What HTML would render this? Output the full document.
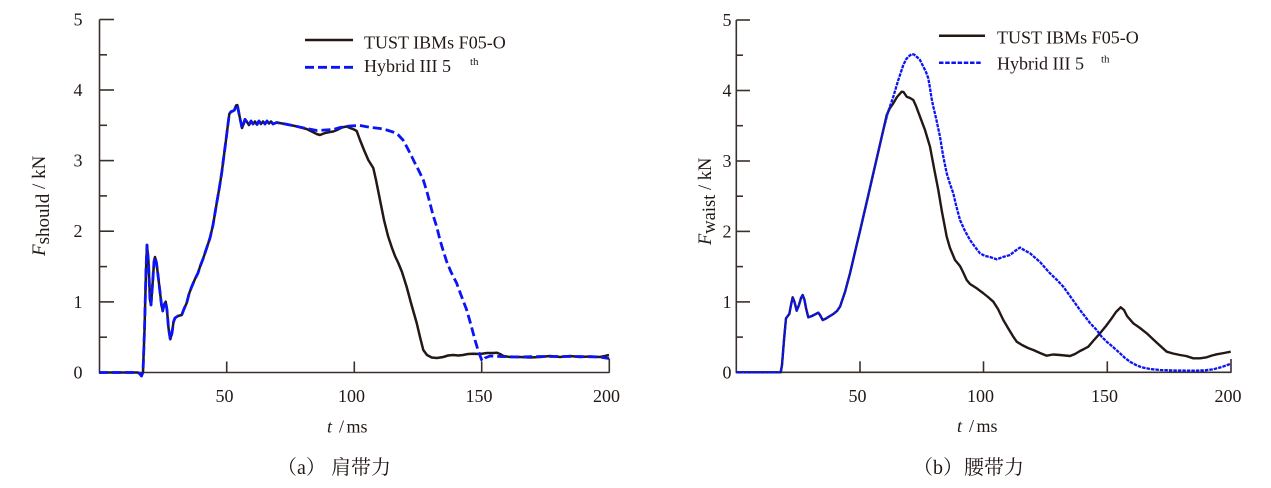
<!DOCTYPE html>
<html>
<head>
<meta charset="utf-8">
<style>
html,body{margin:0;padding:0;background:#fff;}
svg{display:block;}
text{font-family:"Liberation Serif","Times New Roman",serif;fill:#231815;}
.cj{font-family:"Liberation Serif","Noto Serif CJK SC","Noto Sans CJK SC",serif;}
</style>
</head>
<body>
<svg width="1271" height="488" viewBox="0 0 1271 488" xmlns="http://www.w3.org/2000/svg">
<rect width="1271" height="488" fill="#fff"/>

<!-- ============ LEFT CHART ============ -->
<g stroke="#3a302c" stroke-width="1.6" fill="none">
  <polyline points="99.5,19.5 99.5,372.5 609.5,372.5"/>
  <line x1="99.5" y1="19.5" x2="114" y2="19.5"/>
  <line x1="99.5" y1="90" x2="114" y2="90"/>
  <line x1="99.5" y1="160.6" x2="114" y2="160.6"/>
  <line x1="99.5" y1="231.2" x2="114" y2="231.2"/>
  <line x1="99.5" y1="301.9" x2="114" y2="301.9"/>
  <line x1="99.5" y1="54.8" x2="107" y2="54.8"/>
  <line x1="99.5" y1="125.3" x2="107" y2="125.3"/>
  <line x1="99.5" y1="195.9" x2="107" y2="195.9"/>
  <line x1="99.5" y1="266.6" x2="107" y2="266.6"/>
  <line x1="99.5" y1="337.2" x2="107" y2="337.2"/>
  <line x1="226.7" y1="372.5" x2="226.7" y2="361.5"/>
  <line x1="354.3" y1="372.5" x2="354.3" y2="361.5"/>
  <line x1="481.7" y1="372.5" x2="481.7" y2="361.5"/>
  <line x1="609.3" y1="372.5" x2="609.3" y2="358.5"/>
</g>
<g font-size="18" text-anchor="end">
  <text x="82.5" y="25.5">5</text>
  <text x="82.5" y="96">4</text>
  <text x="82.5" y="166.6">3</text>
  <text x="82.5" y="237.2">2</text>
  <text x="82.5" y="307.9">1</text>
  <text x="82.5" y="378.5">0</text>
</g>
<g font-size="18" text-anchor="middle">
  <text x="224.5" y="402">50</text>
  <text x="351.5" y="402">100</text>
  <text x="479" y="402">150</text>
  <text x="606.5" y="402">200</text>
</g>
<text x="327" y="432.5" font-size="18" font-style="italic">t</text>
<text x="339" y="432.5" font-size="18">/</text>
<text x="346.5" y="432.5" font-size="18">ms</text>
<text transform="translate(45,256) rotate(-90)" font-size="19"><tspan font-style="italic">F</tspan><tspan dy="4">should</tspan><tspan dy="-4"> / kN</tspan></text>

<!-- left series -->
<polyline fill="none" stroke="#231815" stroke-width="2.5" stroke-linejoin="round" points="
99,372.5 138,372.5 140,374 141.5,376 143,372 144.5,330 146,270 147,245 148.5,262 150,300 151,305 152.5,285 154,262 155,257 156.5,263 158,275 160,292 161.5,305 162.7,311 164,305 165.7,301.7 167,310 168.5,328 170.3,339.3 172,333 173.5,322 175,318 178,316 181.7,315 184,309 186.7,303 189,294 191.7,286.7 195,279 198,273 200,266.7 203,259 206,250 210,238 213,225 216.7,203 219,190 221.7,173 224,155 226,140 228,124 229.3,114 231,111.7 233,111 234.5,110 236,105.5 237.3,105 238.3,110 239.5,116 241,123 242,128 243.5,124 245,119.3 247,122 249,125 251,121 253,124 255,121.5 257,124.5 259,121 261,124 263,121.5 265,124 267,121 269,123.5 271,121.5 273,124 276.7,122.5 285,124 295,126 306.7,129 316.7,134 320,135 325,133 330,132 333.3,131.5 337,130 341,128 344,127 346.7,126.5 350,128 354,129.5 356.7,131 360,140 364,150 368.3,160 373.3,168 376,180 380,200 384,220 388,236 392,248 395,256 398.3,263 402,272 406.7,287 411,303 416.7,323 420,337 423.3,350 427,355 431.7,357.5 437,358 443.3,357 448,355.5 453.3,355 458,355.5 463,355 468,354 473.3,353.8 480,354 487,353 493,353 496.7,352.7 500,354 503.3,356 510,357 520,357 530,357.5 540,357 550,356 560,357 570,356 580,357 590,356.5 600,357 605,356 609,355"/>
<polyline fill="none" stroke="#0a14f5" stroke-width="2.8" stroke-dasharray="9,4" stroke-linejoin="round" points="
99,372.5 138,372.5 140,374 141.5,376 143,372 144.5,330 146,270 147,245 148.5,262 150,300 151,305 152.5,285 154,262 155,257 156.5,263 158,275 160,292 161.5,305 162.7,311 164,305 165.7,301.7 167,310 168.5,328 170.3,339.3 172,333 173.5,322 175,318 178,316 181.7,315 184,309 186.7,303 189,294 191.7,286.7 195,279 198,273 200,266.7 203,259 206,250 210,238 213,225 216.7,203 219,190 221.7,173 224,155 226,140 228,124 229.3,114 231,111.7 233,111 234.5,110 236,105.5 237.3,105 238.3,110 239.5,116 241,123 242,128 243.5,124 245,119.3 247,122 249,125 251,121 253,124 255,121.5 257,124.5 259,121 261,124 263,121.5 265,124 267,121 269,123.5 271,121.5 273,124 276.7,122.5 285,124 295,126 306.7,128.5 316.7,130.5 325,130 333.3,129.5 340,127.5 350,126 360,125.5 370,127.3 380,128.5 386.7,130 393,132 398.3,135 403,140 406.7,146.7 411,155 415,163.3 419,171 423.3,180 427,192 430,203.3 433,215 436.7,226.7 440,240 443.3,251 446.7,261.7 451,272 456.7,283.3 461,295 466.7,310 471,325 475,340 478,350 481.7,360 483,361 485,358 490,356 500,356.5 520,357 540,356.5 560,356.5 580,356.5 600,357 609,358.5"/>

<!-- left legend -->
<line x1="305" y1="40" x2="353" y2="40" stroke="#231815" stroke-width="2.5"/>
<line x1="305" y1="67.3" x2="353" y2="67.3" stroke="#0a14f5" stroke-width="2.8" stroke-dasharray="9,4"/>
<text x="364" y="48.5" font-size="18">TUST IBMs F05-O</text>
<text x="364" y="72" font-size="18">Hybrid III 5</text>
<text x="470" y="65" font-size="11">th</text>

<!-- left caption -->
<text x="277" y="474" font-size="20" class="cj">（a）</text>
<text x="331" y="474" font-size="20" class="cj">肩带力</text>

<!-- ============ RIGHT CHART ============ -->
<g stroke="#3a302c" stroke-width="1.6" fill="none">
  <polyline points="736.3,20 736.3,372.3 1231.5,372.3"/>
  <line x1="736.3" y1="20" x2="750" y2="20"/>
  <line x1="736.3" y1="90.5" x2="750" y2="90.5"/>
  <line x1="736.3" y1="161" x2="750" y2="161"/>
  <line x1="736.3" y1="231.4" x2="750" y2="231.4"/>
  <line x1="736.3" y1="301.9" x2="750" y2="301.9"/>
  <line x1="736.3" y1="55.2" x2="743" y2="55.2"/>
  <line x1="736.3" y1="125.7" x2="743" y2="125.7"/>
  <line x1="736.3" y1="196.2" x2="743" y2="196.2"/>
  <line x1="736.3" y1="266.6" x2="743" y2="266.6"/>
  <line x1="736.3" y1="337.1" x2="743" y2="337.1"/>
  <line x1="860" y1="372.3" x2="860" y2="361.3"/>
  <line x1="983.5" y1="372.3" x2="983.5" y2="361.3"/>
  <line x1="1107.3" y1="372.3" x2="1107.3" y2="361.3"/>
  <line x1="1231" y1="372.3" x2="1231" y2="359"/>
</g>
<g font-size="18" text-anchor="end">
  <text x="731.5" y="26">5</text>
  <text x="731.5" y="96.5">4</text>
  <text x="731.5" y="167">3</text>
  <text x="731.5" y="237.4">2</text>
  <text x="731.5" y="307.9">1</text>
  <text x="731.5" y="378.3">0</text>
</g>
<g font-size="18" text-anchor="middle">
  <text x="857.5" y="402">50</text>
  <text x="980.5" y="402">100</text>
  <text x="1104.5" y="402">150</text>
  <text x="1228" y="402">200</text>
</g>
<text x="957" y="432" font-size="18" font-style="italic">t</text>
<text x="969" y="432" font-size="18">/</text>
<text x="976.5" y="432" font-size="18">ms</text>
<text transform="translate(711,245) rotate(-90)" font-size="18.5"><tspan font-style="italic">F</tspan><tspan dy="4">waist</tspan><tspan dy="-4"> / kN</tspan></text>

<!-- right series -->
<polyline fill="none" stroke="#231815" stroke-width="2.4" stroke-linejoin="round" points="
736.3,372.3 780.7,372.3 782,365 784,340 786,318.3 789.3,314 791,305 792.7,297.3 794.5,302 796.7,310.7 799,305 801,298 802.7,295 804.5,300 806,308 808.3,317.3 812,316 818.3,312.7 820,315 822.7,320 826,318.5 830,316 833.3,314 837,311 840,306.7 845,292 850,273.3 855,252 860,231 863.3,216.7 868,196.5 873.3,173.3 878,153 883.3,130 886.7,115 890,108 893.3,103.3 897,97 901.7,91.7 903.5,92 906.7,96.7 910,98 913.3,100 916,106 920,116.7 925,130 930,146.7 934,168 938.3,190 942,212 946.7,236.7 950,248 955,260 960,266 963,272 966.7,280 970,284 976.7,288.3 983,293 988,297 993.3,301.7 998,309 1003.3,320 1008,328 1013.3,336.7 1016.7,341.7 1022,345 1028,348 1033.3,350 1040,353 1046.7,355.7 1053,354.5 1060,355 1065,355.5 1070,356 1075,354 1080,351 1084,349 1088.3,346.7 1094,340 1100,333.3 1106,326 1111.7,318.3 1116,312 1120.7,307.3 1124,310 1127,316 1133.3,323.3 1140,328 1146.7,333.3 1156,342 1166.7,351.7 1173,353.5 1180,355 1186,356 1193.3,358.3 1200,358.3 1206.7,357.3 1212,355.5 1216.7,354.3 1224,353 1230.7,351.7"/>
<polyline fill="none" stroke="#0a14f5" stroke-width="2.3" stroke-dasharray="3.5,1" stroke-linejoin="round" points="
736.3,372.3 780.7,372.3 782,365 784,340 786,318.3 789.3,314 791,305 792.7,297.3 794.5,302 796.7,310.7 799,305 801,298 802.7,295 804.5,300 806,308 808.3,317.3 812,316 818.3,312.7 820,315 822.7,320 826,318.5 830,316 833.3,314 837,311 840,306.7 845,292 850,273.3 855,252 860,231 863.3,216.7 868,196.5 873.3,173.3 878,153 883.3,130 888,112 893.3,96.7 898,81 903.3,65 906,59.5 908.3,56.7 911.7,54 914,54.5 917,57 920,60 923,66 926,72 928.3,78.3 930,88 931.5,98 933.3,106.7 936,118 940,136.7 943,155 946.7,173.3 950,184 953.3,193.3 956,205 960,220 965,231 970,240 975,247 980,253.3 985,256 990,257 996.7,259.3 1003,257 1010,255 1015,251 1018,249 1020,247.5 1024,250 1030,253.3 1040,262 1050,273.3 1057,280 1063.3,286.7 1070,296 1080,310 1090,323 1096.7,330 1101,336 1106.7,341.7 1113,347 1120,353.3 1125,358 1130,361.7 1136,365 1141.7,367.3 1150,369 1160,370 1175,370.5 1193.3,370.7 1205,370.3 1213.3,369.3 1222,367 1230,364"/>

<!-- right legend -->
<line x1="939" y1="35.7" x2="985" y2="35.7" stroke="#231815" stroke-width="2.5"/>
<line x1="939" y1="62.7" x2="982" y2="62.7" stroke="#0a14f5" stroke-width="2.5" stroke-dasharray="4.5,1.7"/>
<text x="997" y="43.5" font-size="18">TUST IBMs F05-O</text>
<text x="997" y="69.5" font-size="18">Hybrid III 5</text>
<text x="1101" y="62.5" font-size="11">th</text>

<!-- right caption -->
<text x="913" y="474" font-size="20" class="cj">（b）</text>
<text x="964" y="474" font-size="20" class="cj">腰带力</text>
</svg>
</body>
</html>
